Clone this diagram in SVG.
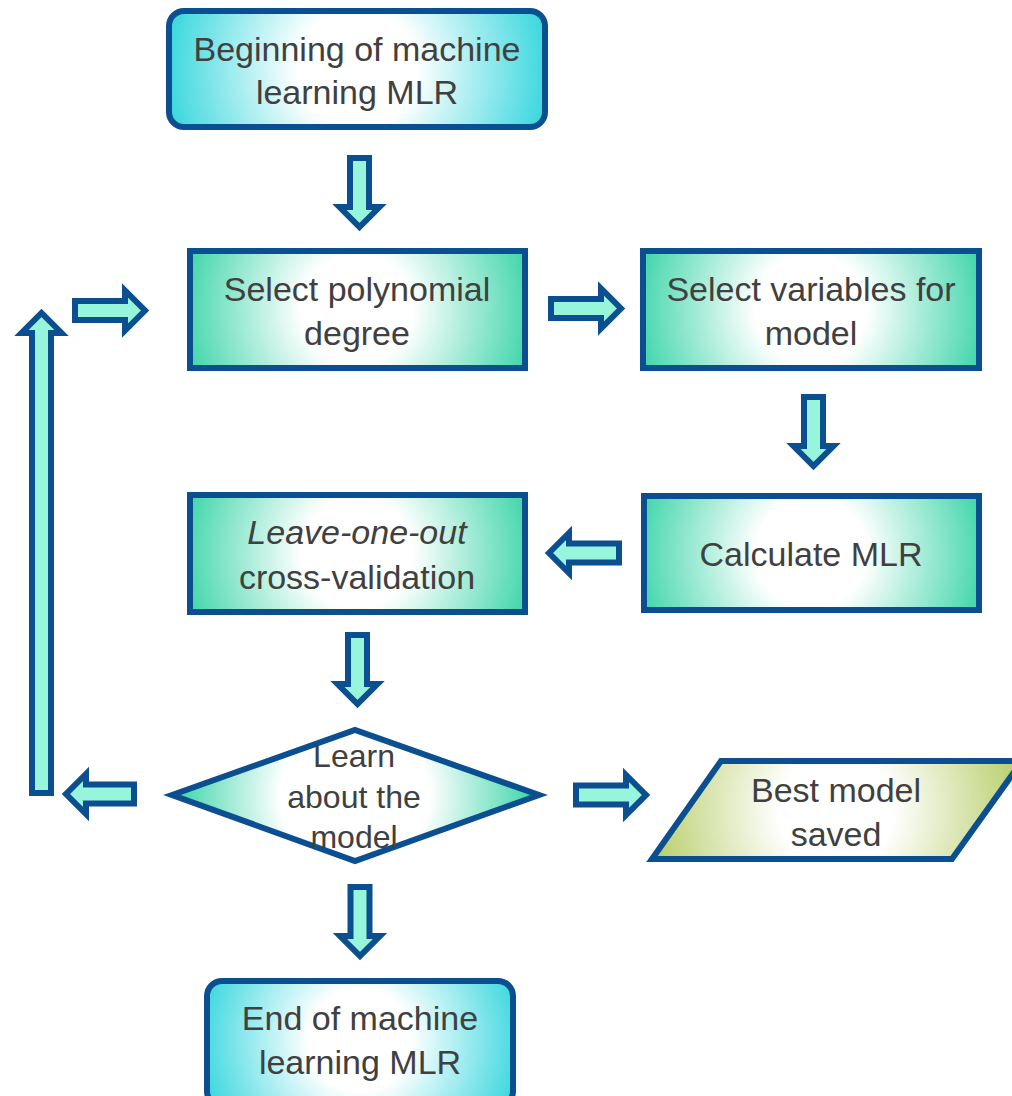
<svg xmlns="http://www.w3.org/2000/svg" width="1012" height="1096" viewBox="0 0 1012 1096">
<defs>
<radialGradient id="gTop" gradientUnits="userSpaceOnUse" cx="357" cy="69" r="200"><stop offset="0" stop-color="#ffffff"/><stop offset="0.3" stop-color="#ffffff"/><stop offset="1" stop-color="#2dd5dc"/></radialGradient>
<radialGradient id="gEnd" gradientUnits="userSpaceOnUse" cx="360" cy="1040" r="170"><stop offset="0" stop-color="#ffffff"/><stop offset="0.3" stop-color="#ffffff"/><stop offset="1" stop-color="#2dd5dc"/></radialGradient>
<radialGradient id="gSP" gradientUnits="userSpaceOnUse" cx="357" cy="309" r="185"><stop offset="0" stop-color="#ffffff"/><stop offset="0.3" stop-color="#ffffff"/><stop offset="1" stop-color="#32d3a4"/></radialGradient>
<radialGradient id="gSV" gradientUnits="userSpaceOnUse" cx="811" cy="309" r="185"><stop offset="0" stop-color="#ffffff"/><stop offset="0.3" stop-color="#ffffff"/><stop offset="1" stop-color="#32d3a4"/></radialGradient>
<radialGradient id="gCM" gradientUnits="userSpaceOnUse" cx="811" cy="553" r="185"><stop offset="0" stop-color="#ffffff"/><stop offset="0.3" stop-color="#ffffff"/><stop offset="1" stop-color="#32d3a4"/></radialGradient>
<radialGradient id="gLO" gradientUnits="userSpaceOnUse" cx="357" cy="553" r="185"><stop offset="0" stop-color="#ffffff"/><stop offset="0.3" stop-color="#ffffff"/><stop offset="1" stop-color="#32d3a4"/></radialGradient>
<radialGradient id="gDm" gradientUnits="userSpaceOnUse" cx="355" cy="795" r="185"><stop offset="0" stop-color="#ffffff"/><stop offset="0.4" stop-color="#ffffff"/><stop offset="1" stop-color="#32d3a4"/></radialGradient>
<radialGradient id="gPg" gradientUnits="userSpaceOnUse" cx="836" cy="810" r="190"><stop offset="0" stop-color="#ffffff"/><stop offset="0.3" stop-color="#ffffff"/><stop offset="1" stop-color="#b7cd68"/></radialGradient>
</defs>
<style>
.nd{stroke:#0b4f90;stroke-width:6;stroke-linejoin:miter}
.ar{fill:#97f5dc;stroke:#0b4f90;stroke-width:6;stroke-linejoin:miter;stroke-miterlimit:4}
.t{font-family:"Liberation Sans",Arial,sans-serif;font-size:34px;fill:#404040;text-anchor:middle}
.td{font-size:32px}
</style>
<rect width="1012" height="1096" fill="#ffffff"/>
<g id="connectors">
<polygon class="ar" points="350,158 369,158 369,207 379.5,207 359.5,227 339.5,207 350,207"/>
<polygon class="ar" points="551,299 601,299 601,288.5 621,308.5 601,328.5 601,318 551,318"/>
<polygon class="ar" points="75,301 125,301 125,290.5 145,310.5 125,330.5 125,320 75,320"/>
<polygon class="ar" points="32,793 32,333 21.5,333 41.5,313 61.5,333 51,333 51,793"/>
<polygon class="ar" points="804,397 823,397 823,446 833.5,446 813.5,466 793.5,446 804,446"/>
<polygon class="ar" points="619,543.5 569,543.5 569,533 549,553 569,573 569,562.5 619,562.5"/>
<polygon class="ar" points="348,635 367,635 367,684 377.5,684 357.5,704 337.5,684 348,684"/>
<polygon class="ar" points="134,784.5 86,784.5 86,774 66,794 86,814 86,803.5 134,803.5"/>
<polygon class="ar" points="576,785.5 626,785.5 626,775 646,795 626,815 626,804.5 576,804.5"/>
<polygon class="ar" points="350.5,887 369.5,887 369.5,936 380,936 360,956 340,936 350.5,936"/>
</g>
<g id="start">
<rect class="nd" x="169" y="11" width="376" height="116" rx="15" fill="url(#gTop)"/>
<text class="t" x="357" y="61">Beginning of machine</text>
<text class="t" x="357" y="104">learning MLR</text>
</g>
<g id="select-degree">
<rect class="nd" x="190" y="251" width="335" height="117" fill="url(#gSP)"/>
<text class="t" x="357" y="301">Select polynomial</text>
<text class="t" x="357" y="345">degree</text>
</g>
<g id="select-variables">
<rect class="nd" x="643" y="251" width="336" height="117" fill="url(#gSV)"/>
<text class="t" x="811" y="301">Select variables for</text>
<text class="t" x="811" y="345">model</text>
</g>
<g id="calculate">
<rect class="nd" x="644" y="496" width="335" height="114" fill="url(#gCM)"/>
<text class="t" x="811" y="566">Calculate MLR</text>
</g>
<g id="loocv">
<rect class="nd" x="190" y="495" width="335" height="117" fill="url(#gLO)"/>
<text class="t" x="357" y="544" font-style="italic">Leave-one-out</text>
<text class="t" x="357" y="589">cross-validation</text>
</g>
<g id="decision">
<polygon class="nd" points="172,795 355,730 539,795 355,861" fill="url(#gDm)"/>
<text class="t td" x="354" y="767">Learn</text>
<text class="t td" x="354" y="808">about the</text>
<text class="t td" x="354" y="848">model</text>
</g>
<g id="best-model">
<polygon class="nd" points="721,761 1022,761 952,859 652,859" fill="url(#gPg)"/>
<text class="t" x="836" y="802">Best model</text>
<text class="t" x="836" y="846">saved</text>
</g>
<g id="end">
<rect class="nd" x="207" y="981" width="306" height="125" rx="15" fill="url(#gEnd)"/>
<text class="t" x="360" y="1030">End of machine</text>
<text class="t" x="360" y="1074">learning MLR</text>
</g>
</svg>
